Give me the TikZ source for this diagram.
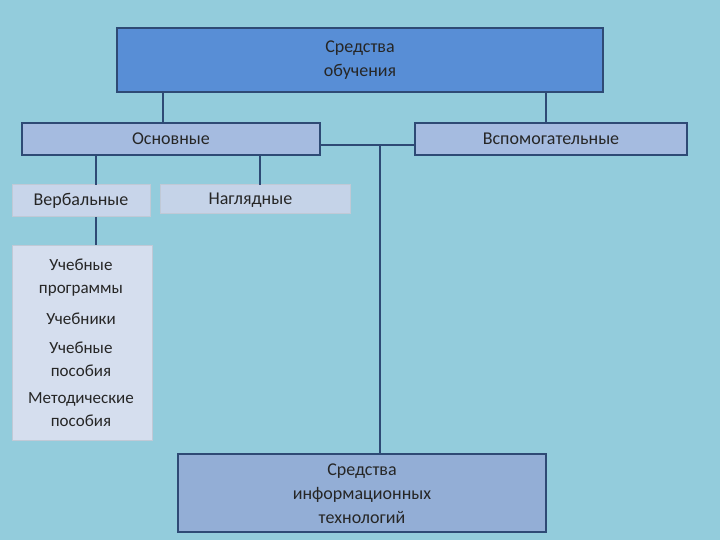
\documentclass[tikz,border=0pt]{standalone}
\usepackage{fontspec}
\setmainfont{Carlito}
\begin{document}
\begin{tikzpicture}[x=1pt,y=-1pt,
  ln/.style={draw=lc,line width=2.2pt},
  bx/.style={draw=lc,line width=2pt},
  lt/.style={draw=white!70!lc,line width=1pt},
  tx/.style={font=\fontsize{18}{24}\selectfont,align=center,text=black!85}]
\definecolor{bg}{HTML}{93CCDC}
\definecolor{lc}{HTML}{2E4A75}
\fill[bg] (0,0) rectangle (720,540);
\useasboundingbox (0,0) rectangle (720,540);
\fill[fill={rgb,255:red,88;green,142;blue,214},bx] (117,28) rectangle (603,92);
\node[tx] (top) at (360,60) {Средства\\обучения};
\fill[fill={rgb,255:red,165;green,187;blue,224},bx] (22,123) rectangle (320,155);
\node[tx] (osn) at (171,139) {Основные};
\fill[fill={rgb,255:red,165;green,187;blue,224},bx] (415,123) rectangle (687,155);
\node[tx] (vsp) at (551,139) {Вспомогательные};
\fill[fill={rgb,255:red,200;green,213;blue,234},lt] (12,185) rectangle (150,217);
\node[tx] (verb) at (81,201) {Вербальные};
\fill[fill={rgb,255:red,197;green,211;blue,232},lt] (160,185) rectangle (350,214);
\node[tx,anchor=west] (nagl) at (205,200) {Наглядные};
\fill[fill={rgb,255:red,213;green,222;blue,238},lt] (12,245) rectangle (152,440);
\node[tx,font=\fontsize{17}{23}\selectfont] (list) at (81,343) {Учебные\\программы\\[8pt]Учебники\\[6pt]Учебные\\пособия\\[4pt]Методические\\пособия};
\fill[fill={rgb,255:red,147;green,174;blue,214},bx] (178,454) rectangle (546,532);
\node[tx] (ikt) at (362,494) {Средства\\информационных\\технологий};
\coordinate (j) at (380,145);
\draw[ln] (163,92) -- (163,123);
\draw[ln] (546,92) -- (546,123);
\draw[ln] (320,145) -- (415,145);
\draw[ln] (j) -- (380,454);
\draw[ln] (96,155) -- (96,185);
\draw[ln] (260,155) -- (260,185);
\draw[ln] (96,217) -- (96,245);
\end{tikzpicture}
\end{document}
